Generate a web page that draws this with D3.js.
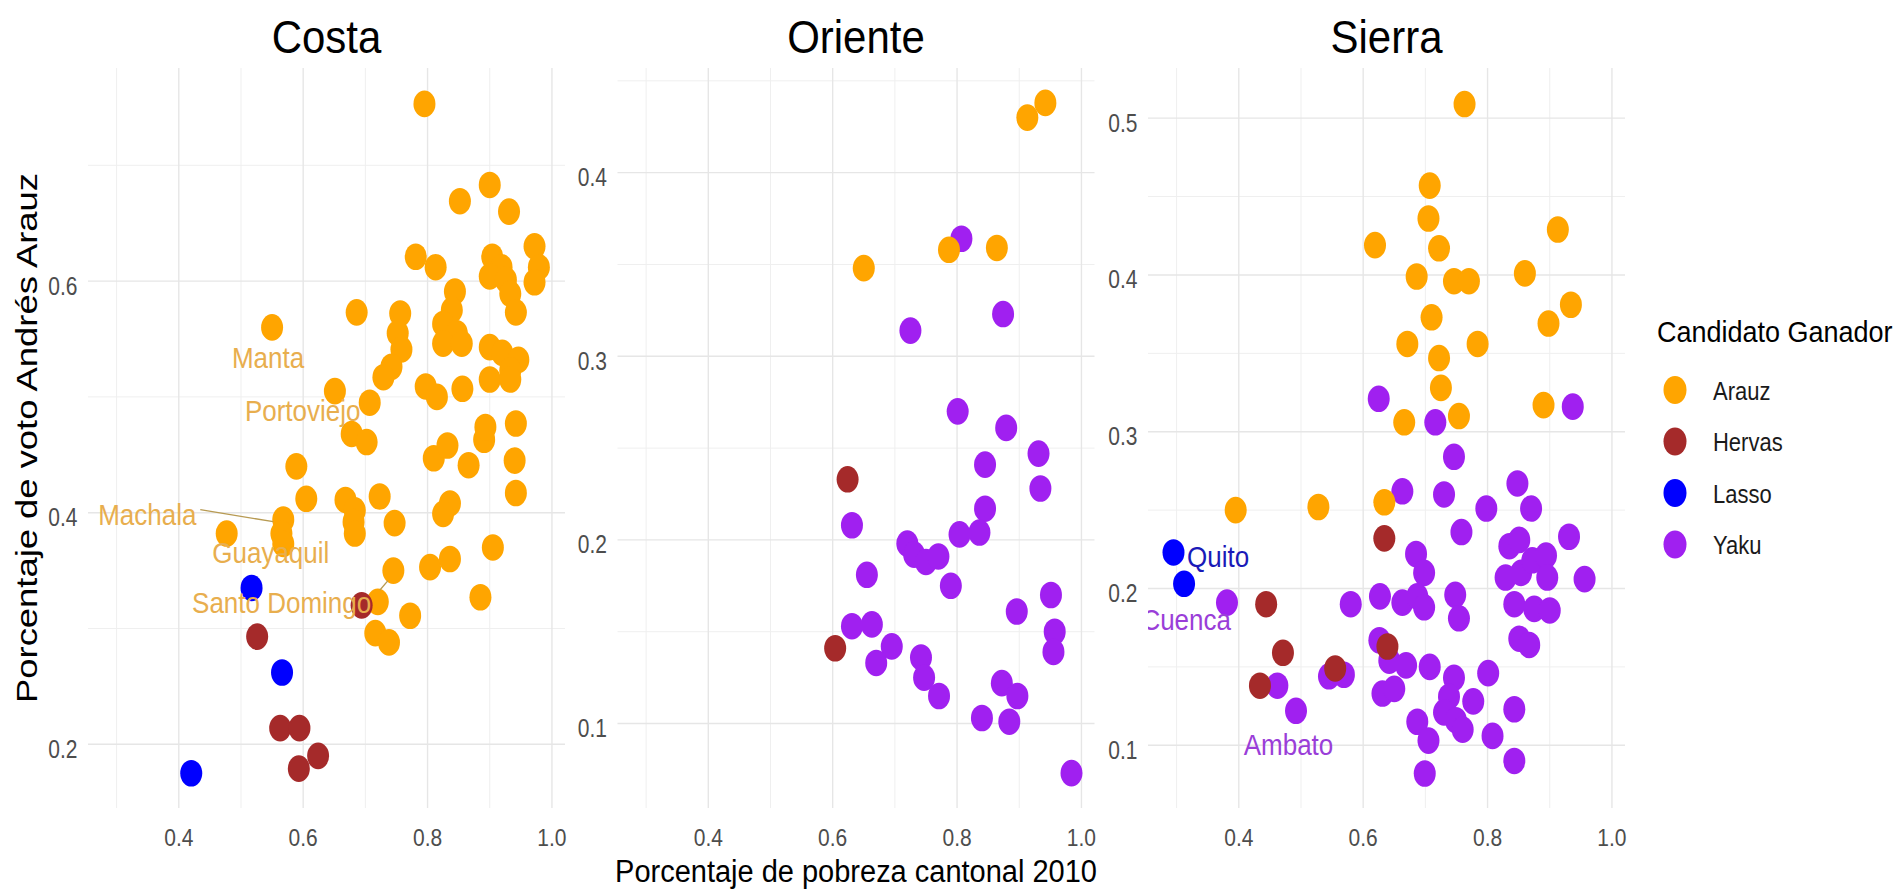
<!DOCTYPE html>
<html>
<head>
<meta charset="utf-8">
<script src="https://cdn.jsdelivr.net/npm/d3@7"></script>
<style>
  html, body { margin: 0; padding: 0; background: #ffffff; }
  svg { display: block; }
</style>
</head>
<body>
<svg id="chart" width="1897" height="894"></svg>
<script>
// ---------------- DATA ----------------
const regions = ["Costa", "Oriente", "Sierra"];
const candidates = ["Arauz", "Hervas", "Lasso", "Yaku"];
const candidateColors = ["#FFA500", "#A52A2A", "#0000FF", "#A020F0"];
const xTickValues = [0.4, 0.6, 0.8, 1.0];
const xTickLabels = ["0.4", "0.6", "0.8", "1.0"];
const xMinorValues = [0.3, 0.5, 0.7, 0.9];
const costaYTicks = [0.2, 0.4, 0.6];
const orienteYTicks = [0.1, 0.2, 0.3, 0.4];
const sierraYTicks = [0.1, 0.2, 0.3, 0.4, 0.5];
const costaYMinor = [0.3, 0.5, 0.7];
const orienteYMinor = [0.15, 0.25, 0.35, 0.45];
const sierraYMinor = [0.15, 0.25, 0.35, 0.45];
const xDomain = [0.254, 1.021];
const costaYDomain = [0.145, 0.784];
const orienteYDomain = [0.054, 0.457];
const sierraYDomain = [0.060, 0.532];

// [pobreza, voto Arauz]
const costaArauz = [
  [0.795,0.753],[0.900,0.683],[0.852,0.669],[0.931,0.660],[0.972,0.630],[0.781,0.621],
  [0.813,0.612],[0.904,0.621],[0.919,0.612],[0.979,0.612],[0.900,0.604],[0.926,0.601],
  [0.972,0.599],[0.933,0.589],[0.942,0.573],[0.844,0.591],[0.839,0.575],[0.825,0.563],
  [0.847,0.555],[0.825,0.546],[0.855,0.546],[0.686,0.573],[0.756,0.572],[0.752,0.555],
  [0.758,0.541],[0.742,0.526],[0.729,0.517],[0.550,0.560],[0.900,0.543],[0.920,0.538],
  [0.946,0.532],[0.933,0.523],[0.900,0.515],[0.933,0.515],[0.797,0.509],[0.815,0.500],
  [0.856,0.507],[0.651,0.505],[0.707,0.495],[0.678,0.468],[0.702,0.461],[0.810,0.447],
  [0.832,0.458],[0.866,0.441],[0.891,0.463],[0.940,0.445],[0.942,0.477],[0.893,0.474],
  [0.589,0.440],[0.605,0.412],[0.668,0.411],[0.683,0.402],[0.681,0.392],[0.683,0.382],
  [0.723,0.414],[0.747,0.391],[0.836,0.408],[0.825,0.399],[0.942,0.417],[0.477,0.382],
  [0.568,0.394],[0.565,0.382],[0.568,0.373],[0.745,0.350],[0.804,0.353],[0.836,0.360],
  [0.905,0.370],[0.885,0.327],[0.720,0.323],[0.772,0.311],[0.716,0.296],[0.738,0.288]
];
const costaHervas = [[0.694,0.320],[0.526,0.293],[0.563,0.214],[0.594,0.214],[0.624,0.190],[0.593,0.179]];
const costaLasso = [[0.517,0.335],[0.566,0.262],[0.420,0.175]];
const costaYaku = [];

const orienteArauz = [[0.913,0.430],[0.942,0.438],[0.787,0.358],[0.864,0.359],[0.650,0.348]];
const orienteHervas = [[0.624,0.233],[0.604,0.141]];
const orienteLasso = [];
const orienteYaku = [
  [0.807,0.364],[0.874,0.323],[0.725,0.314],[0.801,0.270],[0.879,0.261],[0.931,0.247],
  [0.845,0.241],[0.934,0.228],[0.631,0.208],[0.845,0.217],[0.836,0.204],[0.804,0.203],
  [0.720,0.198],[0.731,0.192],[0.750,0.188],[0.770,0.191],[0.790,0.175],[0.655,0.181],
  [0.951,0.170],[0.896,0.161],[0.631,0.153],[0.663,0.154],[0.695,0.142],[0.670,0.133],
  [0.742,0.136],[0.747,0.125],[0.771,0.115],[0.872,0.122],[0.897,0.115],[0.840,0.103],
  [0.884,0.101],[0.957,0.150],[0.955,0.139],[0.984,0.073]
];

const sierraArauz = [
  [0.763,0.509],[0.707,0.457],[0.705,0.436],[0.913,0.429],[0.619,0.419],[0.722,0.417],
  [0.686,0.399],[0.746,0.396],[0.770,0.396],[0.860,0.401],[0.934,0.381],[0.898,0.369],
  [0.710,0.373],[0.671,0.356],[0.784,0.356],[0.722,0.347],[0.725,0.328],[0.890,0.317],
  [0.666,0.306],[0.754,0.310],[0.634,0.255],[0.528,0.252],[0.395,0.250]
];
const sierraHervas = [[0.634,0.232],[0.444,0.190],[0.471,0.159],[0.639,0.163],[0.555,0.149],[0.434,0.138]];
const sierraLasso = [[0.295,0.223],[0.312,0.203]];
const sierraYaku = [
  [0.937,0.316],[0.625,0.321],[0.716,0.306],[0.746,0.284],[0.663,0.262],[0.730,0.260],
  [0.848,0.267],[0.798,0.251],[0.870,0.251],[0.758,0.236],[0.931,0.233],[0.685,0.222],
  [0.698,0.210],[0.835,0.227],[0.851,0.231],[0.829,0.207],[0.854,0.210],[0.872,0.218],
  [0.894,0.221],[0.896,0.207],[0.956,0.206],[0.580,0.190],[0.627,0.195],[0.663,0.191],
  [0.687,0.195],[0.698,0.188],[0.748,0.196],[0.754,0.181],[0.843,0.190],[0.875,0.187],
  [0.900,0.186],[0.851,0.168],[0.867,0.164],[0.626,0.167],[0.642,0.154],[0.669,0.151],
  [0.707,0.150],[0.545,0.144],[0.569,0.145],[0.462,0.138],[0.492,0.122],[0.631,0.133],
  [0.650,0.136],[0.746,0.143],[0.738,0.131],[0.730,0.121],[0.749,0.116],[0.760,0.110],
  [0.777,0.128],[0.801,0.146],[0.843,0.123],[0.687,0.115],[0.705,0.103],[0.808,0.106],
  [0.843,0.090],[0.699,0.082],[0.381,0.191]
];

// city labels: region, name, point, candidate
const labelNames = ["Manta", "Portoviejo", "Machala", "Guayaquil", "Santo Domingo", "Quito", "Cuenca", "Ambato"];
const labelRegions = ["Costa", "Costa", "Costa", "Costa", "Costa", "Sierra", "Sierra", "Sierra"];
const labelPoints = [[0.550,0.560],[0.707,0.495],[0.568,0.394],[0.568,0.373],[0.745,0.350],[0.295,0.223],[0.381,0.191],[0.492,0.122]];
const labelCandidates = ["Arauz", "Arauz", "Arauz", "Arauz", "Arauz", "Lasso", "Yaku", "Yaku"];

// ---------------- LAYOUT ----------------
const FONT = "'Liberation Sans', Arial, Helvetica, sans-serif";
const panelLefts = [88, 617.5, 1148];
const panelW = 477, panelTop = 68, panelBottom = 808;
const yDomains = [costaYDomain, orienteYDomain, sierraYDomain];
const yTicksAll = [costaYTicks, orienteYTicks, sierraYTicks];
const yMinorAll = [costaYMinor, orienteYMinor, sierraYMinor];
const pointsByRegion = [
  [costaArauz, costaHervas, costaLasso, costaYaku],
  [orienteArauz, orienteHervas, orienteLasso, orienteYaku],
  [sierraArauz, sierraHervas, sierraLasso, sierraYaku]
];
const drawOrder = [3, 0, 1, 2]; // Yaku, Arauz, Hervas, Lasso
const labelColors = { Arauz: "#E8AE4E", Lasso: "#1A1AB8", Yaku: "#9A3ED8" };
const labelLayout = {
  "Manta":         { dx: -4,    dy: 41,   anchor: "middle" },
  "Portoviejo":    { dx: -67,   dy: 18,   anchor: "middle" },
  "Machala":       { dx: -136,  dy: 5,    anchor: "middle", seg: [-83, -10, -10, 2] },
  "Guayaquil":     { dx: -12.5, dy: 19.3, anchor: "middle" },
  "Santo Domingo": { dx: -111.7,dy: 42.7, anchor: "middle", seg: [-13.4, 19.4, -5.4, 10.1] },
  "Quito":         { dx: 13.5,  dy: 14.3, anchor: "start" },
  "Cuenca":        { dx: 4,     dy: 27.4, anchor: "end" },
  "Ambato":        { dx: -7.5,  dy: 44.2, anchor: "middle" }
};

const svg = d3.select("#chart");
svg.append("rect").attr("width", 1897).attr("height", 894).attr("fill", "#ffffff");

function addText(g, x, y, str, o) {
  return g.append("text")
    .attr("transform", `translate(${x},${y}) scale(${o.sx || 1},${o.sy || 1})`)
    .attr("font-family", FONT)
    .attr("font-size", o.size)
    .attr("fill", o.fill || "#000")
    .attr("text-anchor", o.anchor || "start")
    .text(str);
}

const defs = svg.append("defs");

regions.forEach((reg, i) => {
  const left = panelLefts[i];
  const x = d3.scaleLinear().domain(xDomain).range([left, left + panelW]);
  const y = d3.scaleLinear().domain(yDomains[i]).range([panelBottom, panelTop]);
  const g = svg.append("g").attr("class", "panel-" + reg);

  g.selectAll("line.xminor").data(xMinorValues).join("line")
    .attr("x1", d => x(d)).attr("x2", d => x(d))
    .attr("y1", panelTop).attr("y2", panelBottom)
    .attr("stroke", "#EFEFEF").attr("stroke-width", 1);
  g.selectAll("line.yminor").data(yMinorAll[i]).join("line")
    .attr("x1", left).attr("x2", left + panelW)
    .attr("y1", d => y(d)).attr("y2", d => y(d))
    .attr("stroke", "#EFEFEF").attr("stroke-width", 1);
  g.selectAll("line.xmajor").data(xTickValues).join("line")
    .attr("x1", d => x(d)).attr("x2", d => x(d))
    .attr("y1", panelTop).attr("y2", panelBottom)
    .attr("stroke", "#E6E6E6").attr("stroke-width", 1.4);
  g.selectAll("line.ymajor").data(yTicksAll[i]).join("line")
    .attr("x1", left).attr("x2", left + panelW)
    .attr("y1", d => y(d)).attr("y2", d => y(d))
    .attr("stroke", "#E6E6E6").attr("stroke-width", 1.4);

  xTickValues.forEach((v, k) => {
    addText(svg, x(v), 846, xTickLabels[k], { size: 21, sy: 1.18, fill: "#4D4D4D", anchor: "middle" });
  });
  yTicksAll[i].forEach(v => {
    addText(svg, left - 10.5, y(v) + 13.5, d3.format(".1f")(v), { size: 21, sy: 1.2, fill: "#4D4D4D", anchor: "end" });
  });

  addText(svg, left + panelW / 2, 53, reg, { size: 42, sy: 1.12, fill: "#000", anchor: "middle" });

  defs.append("clipPath").attr("id", "clip" + i)
    .append("rect").attr("x", left).attr("y", panelTop).attr("width", panelW).attr("height", panelBottom - panelTop);
  const pg = svg.append("g").attr("clip-path", `url(#clip${i})`);

  drawOrder.forEach(ci => {
    pg.selectAll(null).data(pointsByRegion[i][ci]).join("ellipse")
      .attr("cx", d => x(d[0])).attr("cy", d => y(d[1]))
      .attr("rx", 11).attr("ry", 13.3)
      .attr("fill", candidateColors[ci]);
  });

  labelNames.forEach((name, k) => {
    if (labelRegions[k] !== reg) return;
    const p = labelPoints[k];
    const L = labelLayout[name];
    const px = x(p[0]), py = y(p[1]);
    const col = labelColors[labelCandidates[k]];
    if (L.seg) {
      pg.append("line")
        .attr("x1", px + L.seg[0]).attr("y1", py + L.seg[1])
        .attr("x2", px + L.seg[2]).attr("y2", py + L.seg[3])
        .attr("stroke", "#B79A52").attr("stroke-width", 1.3);
    }
    addText(pg, px + L.dx, py + L.dy, name, { size: 26, sy: 1.12, fill: col, anchor: L.anchor });
  });
});

addText(svg, (panelLefts[1] + panelLefts[1] + panelW) / 2, 882, "Porcentaje de pobreza cantonal 2010", { size: 29, sy: 1.05, fill: "#000", anchor: "middle" });
svg.append("text")
  .attr("transform", `translate(37,${(panelTop + panelBottom) / 2}) rotate(-90)`)
  .attr("font-family", FONT).attr("font-size", 29).attr("fill", "#000")
  .attr("text-anchor", "middle")
  .attr("textLength", 530).attr("lengthAdjust", "spacingAndGlyphs")
  .text("Porcentaje de voto Andrés Arauz");

const lg = svg.append("g");
addText(lg, 1657, 342, "Candidato Ganador", { size: 27, sy: 1.1, fill: "#000" });
const legendY = d3.scalePoint().domain(candidates).range([390, 544.5]);
candidates.forEach((c, k) => {
  lg.append("ellipse").attr("cx", 1675).attr("cy", legendY(c)).attr("rx", 11.5).attr("ry", 14).attr("fill", candidateColors[k]);
  addText(lg, 1713, legendY(c) + 9.5, c, { size: 22, sy: 1.15, fill: "#1a1a1a" });
});
</script>
</body>
</html>
